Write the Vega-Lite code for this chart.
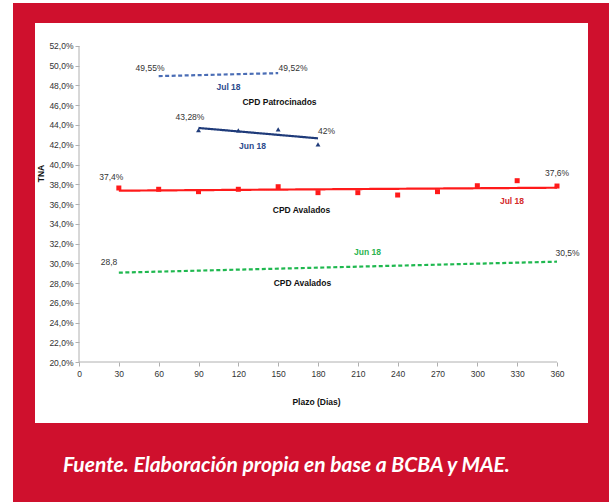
{
  "$schema": "https://vega.github.io/schema/vega-lite/v6.json",
  "width": 553,
  "height": 400,
  "autosize": {"type": "none"},
  "padding": {"left": 35, "top": 23, "right": 25, "bottom": 79},
  "background": "white",
  "config": {
    "view": {"stroke": null},
    "font": "Liberation Sans",
    "text": {"font": "Liberation Sans"},
    "axis": {"labelOverlap": false, "labelFlush": false, "grid": false}
  },
  "resolve": {"scale": {"color": "independent"}},
  "datasets": {
    "avalados_jul18": [
      {"plazo": 30, "tna": 37.62}, {"plazo": 60, "tna": 37.49}, {"plazo": 90, "tna": 37.25},
      {"plazo": 120, "tna": 37.49}, {"plazo": 150, "tna": 37.75}, {"plazo": 180, "tna": 37.15},
      {"plazo": 210, "tna": 37.15}, {"plazo": 240, "tna": 36.91}, {"plazo": 270, "tna": 37.25},
      {"plazo": 300, "tna": 37.85}, {"plazo": 330, "tna": 38.36}, {"plazo": 360, "tna": 37.82}
    ],
    "patrocinados_jun18": [
      {"plazo": 90, "tna": 43.49}, {"plazo": 120, "tna": 43.45}, {"plazo": 150, "tna": 43.56}, {"plazo": 180, "tna": 42.05}
    ],
    "tendencias": [
      {"serie": "Avalados Jul 18", "plazo": 30, "tna": 37.35},
      {"serie": "Avalados Jul 18", "plazo": 360, "tna": 37.65},
      {"serie": "Patrocinados Jun 18", "plazo": 90, "tna": 43.7},
      {"serie": "Patrocinados Jun 18", "plazo": 180, "tna": 42.65},
      {"serie": "Patrocinados Jul 18", "plazo": 60, "tna": 48.95},
      {"serie": "Patrocinados Jul 18", "plazo": 150, "tna": 49.25},
      {"serie": "Avalados Jun 18", "plazo": 30, "tna": 29.05},
      {"serie": "Avalados Jun 18", "plazo": 360, "tna": 30.16}
    ],
    "valores": [
      {"texto": "49,55%", "plazo": 53.5, "tna": 49.77},
      {"texto": "49,52%", "plazo": 161.2, "tna": 49.8},
      {"texto": "43,28%", "plazo": 83.6, "tna": 44.78},
      {"texto": "42%", "plazo": 186.4, "tna": 43.39},
      {"texto": "37,4%", "plazo": 24.3, "tna": 38.7},
      {"texto": "37,6%", "plazo": 360, "tna": 39.17},
      {"texto": "28,8", "plazo": 22.6, "tna": 30.16},
      {"texto": "30,5%", "plazo": 367.9, "tna": 31.01}
    ],
    "rotulos": [
      {"texto": "Jul 18", "grupo": "azul", "plazo": 112.6, "tna": 47.88},
      {"texto": "CPD Patrocinados", "grupo": "negro", "plazo": 151, "tna": 46.36},
      {"texto": "Jun 18", "grupo": "azul", "plazo": 130.7, "tna": 41.9},
      {"texto": "CPD Avalados", "grupo": "negro", "plazo": 167.6, "tna": 35.39},
      {"texto": "Jul 18", "grupo": "rojo", "plazo": 326.1, "tna": 36.33},
      {"texto": "Jun 18", "grupo": "verde", "plazo": 217.3, "tna": 31.11},
      {"texto": "CPD Avalados", "grupo": "negro", "plazo": 168.3, "tna": 28.03}
    ],
    "fuente": [
      {"texto": "Fuente. Elaboración propia en base a BCBA y MAE."}
    ]
  },
  "layer": [
    {
      "data": {"values": [{}]},
      "mark": {"type": "rect", "color": "#cf102d", "clip": false},
      "encoding": {
        "x": {"datum": -49.71, "type": "quantitative", "title": "Plazo (Dias)", "scale": {"domain": [-33.14, 383.35], "nice": false, "zero": false}},
        "x2": {"datum": 399.16},
        "y": {"datum": 56.354, "type": "quantitative", "title": "TNA", "scale": {"domain": [13.823, 54.329], "nice": false, "zero": false}},
        "y2": {"datum": 5.823}
      }
    },
    {
      "data": {"values": [{}]},
      "mark": {"type": "rect", "color": "white", "clip": false},
      "encoding": {
        "x": {"datum": -33.14, "type": "quantitative", "title": "Plazo (Dias)", "scale": {"domain": [-33.14, 383.35], "nice": false, "zero": false}},
        "x2": {"datum": 383.35},
        "y": {"datum": 54.329, "type": "quantitative", "title": "TNA", "scale": {"domain": [13.823, 54.329], "nice": false, "zero": false}},
        "y2": {"datum": 13.823}
      }
    },
    {
      "data": {"name": "tendencias"},
      "mark": {"type": "line", "strokeWidth": 2.2},
      "encoding": {
        "x": {
          "field": "plazo", "type": "quantitative", "title": "Plazo (Dias)",
          "scale": {"domain": [-33.14, 383.35], "nice": false, "zero": false},
          "axis": {
            "title": "Plazo (Dias)", "values": [0, 30, 60, 90, 120, 150, 180, 210, 240, 270, 300, 330, 360],
            "tickCount": 40, "zindex": 1,
            "offset": -61, "domain": false, "labelOverlap": false,
            "tickColor": "#b0b0b0", "tickSize": 4,
            "labelFont": "Liberation Sans", "labelFontSize": 8.5, "labelColor": "#333333", "labelPadding": 3,
            "titleFont": "Liberation Sans", "titleFontSize": 8.5, "titleFontWeight": "bold", "titleColor": "#111111",
            "titleX": 281, "titleY": 39, "titleAlign": "center", "titleBaseline": "middle"
          }
        },
        "y": {
          "field": "tna", "type": "quantitative", "title": "TNA",
          "scale": {"domain": [13.823, 54.329], "nice": false, "zero": false},
          "axis": {
            "title": "TNA", "values": [20, 22, 24, 26, 28, 30, 32, 34, 36, 38, 40, 42, 44, 46, 48, 50, 52],
            "tickCount": 40, "zindex": 1,
            "labelExpr": "replace(format(datum.value, '.1f'), '.', ',') + '%'",
            "offset": -44, "domain": false, "labelOverlap": false,
            "tickColor": "#b0b0b0", "tickSize": 4,
            "labelFont": "Liberation Sans", "labelFontSize": 8.5, "labelColor": "#333333", "labelPadding": 2,
            "titleFont": "Liberation Sans", "titleFontSize": 8.5, "titleFontWeight": "bold", "titleColor": "#111111",
            "titleX": -39, "titleY": 150, "titleAngle": -90, "titleAlign": "center", "titleBaseline": "middle"
          }
        },
        "color": {
          "field": "serie", "type": "nominal", "legend": null,
          "scale": {"domain": ["Avalados Jul 18", "Patrocinados Jun 18", "Patrocinados Jul 18", "Avalados Jun 18"],
                    "range": ["#ff1a1a", "#1f3b7a", "#4a6db5", "#1fb84f"]}
        },
        "strokeDash": {
          "field": "serie", "type": "nominal", "legend": null,
          "scale": {"domain": ["Avalados Jul 18", "Patrocinados Jun 18", "Patrocinados Jul 18", "Avalados Jun 18"],
                    "range": [[1, 0], [1, 0], [4, 2.5], [4, 2.5]]}
        }
      }
    },
    {
      "data": {"values": [{}]},
      "mark": {"type": "rule", "color": "#b0b0b0", "strokeWidth": 1},
      "encoding": {
        "x": {"datum": 0, "type": "quantitative", "title": "Plazo (Dias)", "scale": {"domain": [-33.14, 383.35], "nice": false, "zero": false}},
        "x2": {"datum": 360},
        "y": {"datum": 20, "type": "quantitative", "title": "TNA", "scale": {"domain": [13.823, 54.329], "nice": false, "zero": false}}
      }
    },
    {
      "data": {"values": [{}]},
      "mark": {"type": "rule", "color": "#b0b0b0", "strokeWidth": 1},
      "encoding": {
        "x": {"datum": 0, "type": "quantitative", "title": "Plazo (Dias)", "scale": {"domain": [-33.14, 383.35], "nice": false, "zero": false}},
        "y": {"datum": 20, "type": "quantitative", "title": "TNA", "scale": {"domain": [13.823, 54.329], "nice": false, "zero": false}},
        "y2": {"datum": 52}
      }
    },
    {
      "data": {"name": "avalados_jul18"},
      "mark": {"type": "point", "shape": "square", "filled": true, "size": 25, "color": "#ff1a1a", "opacity": 1},
      "encoding": {
        "x": {"field": "plazo", "type": "quantitative", "title": "Plazo (Dias)", "scale": {"domain": [-33.14, 383.35], "nice": false, "zero": false}},
        "y": {"field": "tna", "type": "quantitative", "title": "TNA", "scale": {"domain": [13.823, 54.329], "nice": false, "zero": false}}
      }
    },
    {
      "data": {"name": "patrocinados_jun18"},
      "mark": {"type": "point", "shape": "triangle-up", "filled": true, "size": 24, "color": "#1f3b7a", "opacity": 1},
      "encoding": {
        "x": {"field": "plazo", "type": "quantitative", "title": "Plazo (Dias)", "scale": {"domain": [-33.14, 383.35], "nice": false, "zero": false}},
        "y": {"field": "tna", "type": "quantitative", "title": "TNA", "scale": {"domain": [13.823, 54.329], "nice": false, "zero": false}}
      }
    },
    {
      "data": {"name": "valores"},
      "mark": {"type": "text", "font": "Liberation Sans", "fontSize": 8.5, "color": "#333333", "align": "center", "baseline": "middle"},
      "encoding": {
        "x": {"field": "plazo", "type": "quantitative", "title": "Plazo (Dias)", "scale": {"domain": [-33.14, 383.35], "nice": false, "zero": false}},
        "y": {"field": "tna", "type": "quantitative", "title": "TNA", "scale": {"domain": [13.823, 54.329], "nice": false, "zero": false}},
        "text": {"field": "texto"}
      }
    },
    {
      "data": {"name": "rotulos"},
      "mark": {"type": "text", "font": "Liberation Sans", "fontSize": 8.5, "fontWeight": "bold", "align": "center", "baseline": "middle"},
      "encoding": {
        "x": {"field": "plazo", "type": "quantitative", "title": "Plazo (Dias)", "scale": {"domain": [-33.14, 383.35], "nice": false, "zero": false}},
        "y": {"field": "tna", "type": "quantitative", "title": "TNA", "scale": {"domain": [13.823, 54.329], "nice": false, "zero": false}},
        "text": {"field": "texto"},
        "color": {
          "field": "grupo", "type": "nominal", "legend": null,
          "scale": {"domain": ["azul", "negro", "rojo", "verde"], "range": ["#2b4a8c", "#111111", "#d42a2a", "#2cb350"]}
        }
      }
    },
    {
      "data": {"name": "fuente"},
      "mark": {"type": "text", "font": "Lato", "fontSize": 21, "fontStyle": "italic", "fontWeight": "bold", "color": "white", "align": "left", "baseline": "middle", "clip": false},
      "encoding": {
        "x": {"datum": -12.05, "type": "quantitative", "title": "Plazo (Dias)", "scale": {"domain": [-33.14, 383.35], "nice": false, "zero": false}},
        "y": {"datum": 9.47, "type": "quantitative", "title": "TNA", "scale": {"domain": [13.823, 54.329], "nice": false, "zero": false}},
        "text": {"field": "texto"}
      }
    }
  ]
}
